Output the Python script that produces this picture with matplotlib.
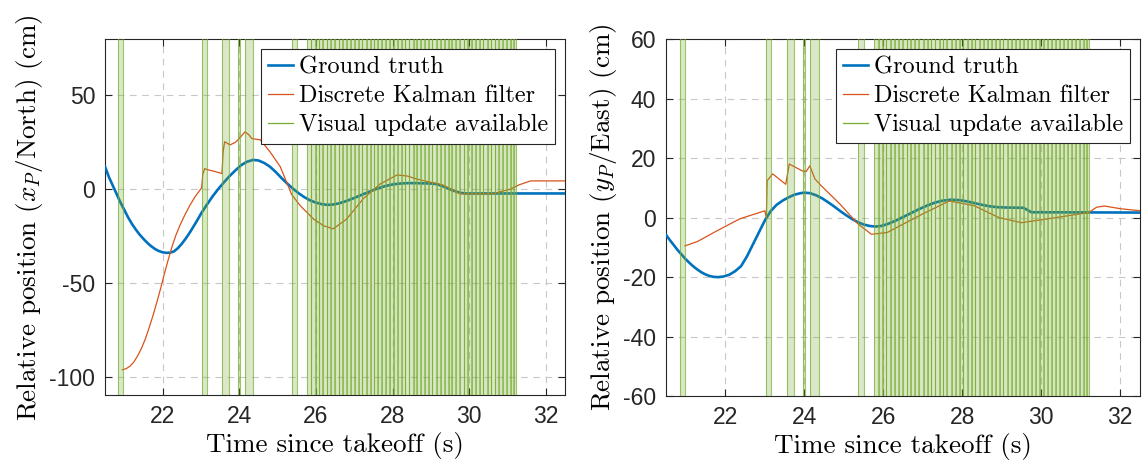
import numpy as np
import matplotlib
matplotlib.use("Agg")
import matplotlib.pyplot as plt
from matplotlib.lines import Line2D

plt.rcParams['mathtext.fontset'] = 'cm'
plt.rcParams['axes.unicode_minus'] = False

# ---------------- data ----------------
# North (x_P) panel
north_gt_t = [20.5, 20.6, 20.7, 20.8, 20.9, 21.0, 21.1, 21.2, 21.3, 21.4, 21.5, 21.6, 21.7, 21.8,
              21.9, 22.0, 22.1, 22.2, 22.3, 22.4, 22.5, 22.6, 22.7, 22.8, 22.9, 23.02, 23.15,
              23.3, 23.45, 23.6, 23.75, 23.9, 24.05, 24.2, 24.36, 24.5, 24.65, 24.8, 24.95,
              25.1, 25.25, 25.4, 25.55, 25.7, 25.85, 26.0, 26.15, 26.3, 26.45, 26.6, 26.8,
              27.0, 27.2, 27.4, 27.6, 27.8, 28.0, 28.2, 28.4, 28.6, 28.8, 29.0, 29.15, 29.3,
              29.45, 29.6, 29.75, 29.9, 30.2, 32.5]
north_gt_y = [12, 6.5, 2, -2.5, -7, -11, -15, -18.5, -21.5, -24.2, -26.5, -28.6, -30.4, -31.9,
              -33, -33.7, -34, -33.9, -33.2, -31.5, -29.2, -26.5, -23.5, -20.2, -16.8, -12.5, -8.5,
              -4, 0, 3.6, 7, 10, 12.8, 14.6, 15.6, 15.3, 14, 12, 9.2,
              6, 3, 0.3, -2.2, -4.3, -6, -7.2, -8, -8.4, -8.2, -7.6, -6.3,
              -4.7, -3, -1.3, 0.3, 1.6, 2.5, 3, 3.2, 3.2, 3.1, 3, 2.7, 1.6,
              0.3, -0.9, -1.9, -2.3, -2.3, -2.3]

north_kf_t = [20.95, 21.05, 21.15, 21.25, 21.35, 21.45, 21.55, 21.65, 21.75, 21.85, 21.95, 22.05,
              22.15, 22.25, 22.35, 22.46, 22.6, 22.72, 22.85, 23.02, 23.05, 23.1,
              23.15, 23.35, 23.55, 23.58, 23.62, 23.76, 23.9, 24.0, 24.15, 24.25, 24.33, 24.55,
              24.8, 25.07, 25.37, 25.6, 25.94, 26.2, 26.45, 26.8, 27.24, 27.68, 28.12, 28.38,
              28.7, 29.3, 29.77, 30.6, 31.07, 31.3, 31.6, 32.5]
north_kf_y = [-96.4, -95.8, -94.5, -92.3, -89, -85, -80, -74, -67.5, -60.5, -53, -45,
              -37.5, -30.5, -24.5, -19, -13, -8.4, -4, 0.7, 8, 11,
              10.5, 9.5, 8.3, 20, 25.3, 23.6, 25, 27, 30.6, 29, 27, 26.3,
              20, 12, -3, -9, -16, -19.5, -21.2, -16, -5, 2.8, 7.6, 7,
              5, 2.3, -2.5, -2.5, 0, 2.3, 4.4, 4.4]

# East (y_P) panel
east_gt_t = [20.5, 20.6, 20.7, 20.8, 20.9, 21.0, 21.1, 21.2, 21.3, 21.4, 21.5, 21.6, 21.7, 21.82,
             21.95, 22.1, 22.25, 22.4, 22.55, 22.7, 22.85, 23.0, 23.15, 23.3, 23.45, 23.6, 23.75,
             23.9, 24.0, 24.15, 24.3, 24.45, 24.6, 24.75, 24.9, 25.05, 25.2, 25.35, 25.5, 25.65,
             25.8, 25.95, 26.1, 26.3, 26.5, 26.7, 26.9, 27.1, 27.3, 27.5, 27.7, 27.9, 28.1,
             28.3, 28.5, 28.7, 28.9, 29.1, 29.55, 29.75, 32.5]
east_gt_y = [-5.8, -7.6, -9.3, -11, -12.5, -14, -15.3, -16.5, -17.5, -18.4, -19.1, -19.6, -19.9, -20,
             -19.8, -19.2, -18, -16.3, -13, -9, -5, -1, 2.2, 4.3, 5.7, 6.8, 7.7,
             8.2, 8.4, 8.2, 7.5, 6.5, 5.2, 3.8, 2.3, 0.9, -0.4, -1.5, -2.3, -2.8,
             -3, -2.8, -2.2, -1.1, 0.2, 1.5, 2.8, 4, 5, 5.7, 6, 5.9, 5.5,
             4.9, 4.3, 3.8, 3.5, 3.4, 3.3, 1.8, 1.7]

east_kf_t = [20.98, 21.3, 21.78, 22.37, 23.0, 23.04, 23.06, 23.2, 23.53, 23.58, 23.62, 23.95,
             24.05, 24.14, 24.27, 24.43, 24.9, 25.35, 25.7, 26.1, 26.99, 27.67, 28.3, 28.93,
             29.5, 30.37, 31.2, 31.4, 31.6, 32.0, 32.5]
east_kf_y = [-9.5, -8, -4.5, -0.4, 2.3, 0, 12.4, 14.7, 11.2, 15, 18, 15.7,
             15.5, 17.4, 13, 10.7, 4.6, -2, -5.6, -5, 1.2, 5.6, 4, 0,
             -1.7, 0, 1.7, 3.5, 3.9, 3.0, 2.3]

# visual-update-available intervals (start, end) in seconds
vis_start = [20.85, 23.02, 23.56, 23.97, 24.15, 25.37,
             25.77, 25.88, 25.99, 26.08, 26.19, 26.30, 26.40, 26.50, 26.61, 26.70,
             26.81, 26.91, 27.02, 27.12, 27.21, 27.32, 27.43, 27.52, 27.62, 27.73,
             27.83, 27.93, 28.03, 28.14, 28.24, 28.33, 28.44, 28.55, 28.64, 28.74,
             28.85, 28.95, 29.04, 29.15, 29.25, 29.36, 29.46, 29.55, 29.66, 29.76,
             29.87, 29.96, 30.06, 30.17, 30.27, 30.37, 30.48, 30.58, 30.68, 30.78,
             30.88, 30.98, 31.08, 31.16]
vis_end = [20.98, 23.16, 23.73, 24.03, 24.37, 25.51,
           25.86, 25.97, 26.07, 26.17, 26.28, 26.38, 26.48, 26.59, 26.68, 26.79,
           26.89, 27.00, 27.10, 27.20, 27.30, 27.41, 27.51, 27.60, 27.71, 27.81,
           27.91, 28.01, 28.12, 28.22, 28.32, 28.42, 28.53, 28.62, 28.72, 28.83,
           28.93, 29.03, 29.13, 29.23, 29.34, 29.44, 29.53, 29.64, 29.74, 29.85,
           29.94, 30.04, 30.15, 30.25, 30.35, 30.46, 30.56, 30.66, 30.76, 30.86,
           30.96, 31.06, 31.14, 31.22]

x_ticks = [22, 24, 26, 28, 30, 32]
north_yticks = [-100, -50, 0, 50]
east_yticks = [-60, -40, -20, 0, 20, 40, 60]

legend_labels = ['Ground truth', 'Discrete Kalman filter', 'Visual update available']
ylabel_north = r'Relative position ($x_P$/North) (cm)'
ylabel_east = r'Relative position ($y_P$/East) (cm)'
xlabel = 'Time since takeoff (s)'

# ---------------- style ----------------
C_BLUE = '#0072BD'
C_RED = '#D95319'
C_GREEN = '#77AC30'
SERIF = 'cmr10'
TICK_FONT = 'Liberation Sans'

fig = plt.figure(figsize=(11.43, 4.65), dpi=100)
ax1 = fig.add_axes([0.0919, 0.150, 0.4025, 0.7656])
ax2 = fig.add_axes([0.5827, 0.148, 0.4147, 0.768])


def draw_panel(ax, gt_t, gt_y, kf_t, kf_y, ylim, yticks, ylabel):
    ax.plot(gt_t, gt_y, color=C_BLUE, lw=1.9, zorder=3)
    ax.plot(kf_t, kf_y, color=C_RED, lw=0.9, zorder=3)
    for s, e in zip(vis_start, vis_end):
        ax.axvspan(s, e, facecolor=C_GREEN, alpha=0.27, lw=0, zorder=4)
        ax.axvline(s, color=C_GREEN, lw=0.8, alpha=0.7, zorder=4)
        ax.axvline(e, color=C_GREEN, lw=0.8, alpha=0.7, zorder=4)
    ax.set_xlim(20.5, 32.5)
    ax.set_ylim(*ylim)
    ax.set_xticks(x_ticks)
    ax.set_yticks(yticks)
    ax.grid(True, color='#c8c8c8', linestyle=(0, (6, 5)), lw=0.8, zorder=0)
    ax.set_axisbelow(True)
    ax.tick_params(direction='in', top=True, right=True, length=5, width=0.8,
                   color='#262626', labelsize=16.5, pad=7)
    for lab in ax.get_xticklabels() + ax.get_yticklabels():
        lab.set_fontfamily(TICK_FONT)
        lab.set_color('#262626')
    for sp in ax.spines.values():
        sp.set_color('#262626')
        sp.set_linewidth(0.8)
    ax.set_xlabel(xlabel, fontfamily=SERIF, fontsize=19.5, labelpad=3)
    ax.set_ylabel(ylabel, fontfamily=SERIF, fontsize=19.5, labelpad=3)
    handles = [Line2D([], [], color=C_BLUE, lw=1.9),
               Line2D([], [], color=C_RED, lw=0.9),
               Line2D([], [], color=C_GREEN, lw=0.9)]
    leg = ax.legend(handles, legend_labels, loc='upper right', fancybox=False,
                    framealpha=1, edgecolor='#262626', prop={'family': SERIF, 'size': 17.5},
                    handlelength=1.0, handletextpad=0.25, borderaxespad=0.4,
                    borderpad=0.3, labelspacing=0.28)
    leg.get_frame().set_linewidth(0.8)
    leg.set_zorder(10)


draw_panel(ax1, north_gt_t, north_gt_y, north_kf_t, north_kf_y, (-110, 80),
           north_yticks, ylabel_north)
draw_panel(ax2, east_gt_t, east_gt_y, east_kf_t, east_kf_y, (-60, 60),
           east_yticks, ylabel_east)

fig.savefig('out.png', dpi=100)
